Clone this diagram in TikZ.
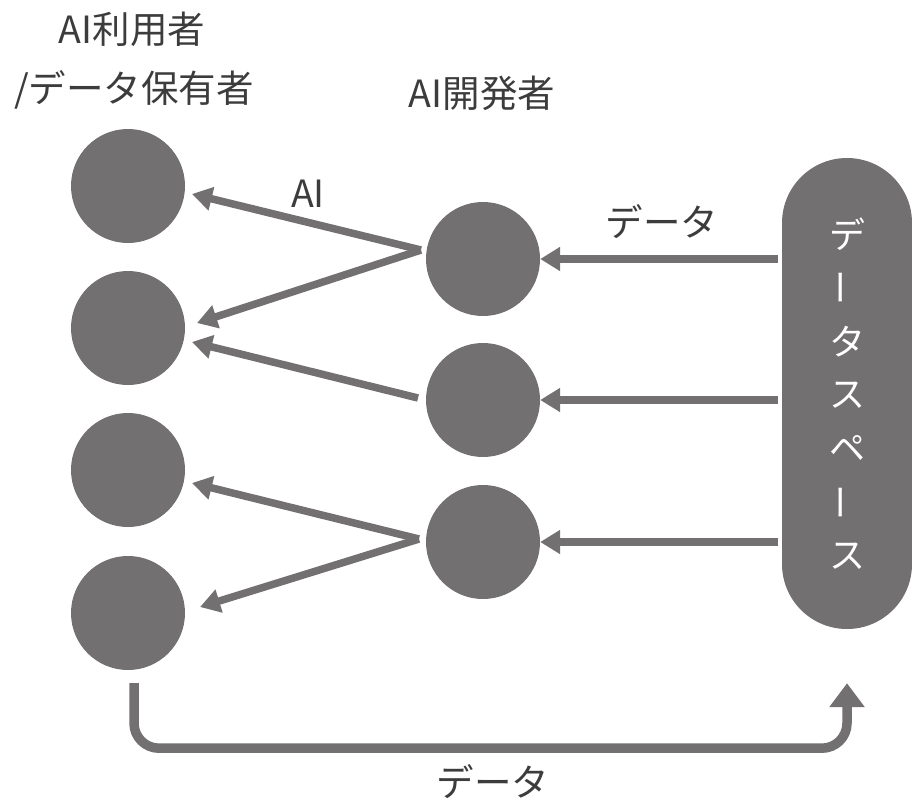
\documentclass[tikz,border=0pt]{standalone}
\usepackage{fontspec}
\setmainfont{Noto Sans CJK JP}
\usetikzlibrary{arrows.meta,calc}
\definecolor{shape}{HTML}{727071}
\definecolor{txt}{HTML}{3C3C3C}
\begin{document}
\begin{tikzpicture}[x=1pt,y=-1pt,
  dot/.style={circle,fill=shape,minimum size=114pt,inner sep=0pt},
  lbl/.style={text=txt,font=\fontsize{37.5}{44}\selectfont,inner sep=0pt},
  vch/.style={text=white,font=\fontsize{36}{42}\selectfont,inner sep=0pt},
  arr/.style={draw=shape,line width=7.5pt,-{Triangle[length=20pt,width=23pt]}},
  barr/.style={draw=shape,line width=9.5pt,rounded corners=25pt,-{Triangle[length=24pt,width=34pt]}}
  ]
\useasboundingbox (0,0) rectangle (912,803);
% users
\node[dot] (u1) at (128,186) {};
\node[dot] (u2) at (128,328) {};
\node[dot] (u3) at (128,470) {};
\node[dot] (u4) at (128,613) {};
% developers
\node[dot] (m1) at (483,259) {};
\node[dot] (m2) at (483,400) {};
\node[dot] (m3) at (483,542) {};
% data space
\node[fill=shape,rounded corners=65pt,minimum width=130pt,minimum height=471pt,inner sep=0pt] (ds) at (847,393.5) {};
\foreach \k/\c/\r in {0/デ/0,1/ー/90,2/タ/0,3/ス/0,4/ペ/0,5/ー/90,6/ス/0}{
  \node[vch,rotate=\r] (v\k) at ($(ds.north)+(0,76+\k*53.7)$) {\c};
}
% labels
\node[lbl] (t1) at (132,29) {AI利用者};
\node[lbl] (t2) at (134,90) {/データ保有者};
\node[lbl] (t3) at (482,93) {AI開発者};
\node[lbl] (ai) at (308,194) {AI};
\node[lbl] (d1) at (662,222) {データ};
\node[lbl] (d2) at (493,782) {データ};
% horizontal arrows
\foreach \m in {m1,m2,m3}{
  \draw[arr,shorten <=4pt] (ds.west |- \m) -- (\m);
}
% diagonal arrows
\coordinate (j1) at ($(m1)+(-62,-9)$);
\coordinate (j2) at ($(m2)+(-65,-2)$);
\coordinate (j3) at ($(m3)+(-64,-3)$);
\draw[arr] (j1) -- ($(u1)+(64,8)$);
\draw[arr] (j1) -- ($(u2)+(69,-5)$);
\draw[arr] (j2) -- ($(u2)+(64,14)$);
\draw[arr] (j3) -- ($(u3)+(64,13)$);
\draw[arr] (j3) -- ($(u4)+(72,-6)$);
% bottom arrow
\coordinate (b1) at ($(u4.south)+(6,13)$);
\coordinate (b2) at ($(ds.south)+(0,54)$);
\draw[barr] (b1) -- ($(b1)+(0,65)$) -| (b2);
\end{tikzpicture}
\end{document}
